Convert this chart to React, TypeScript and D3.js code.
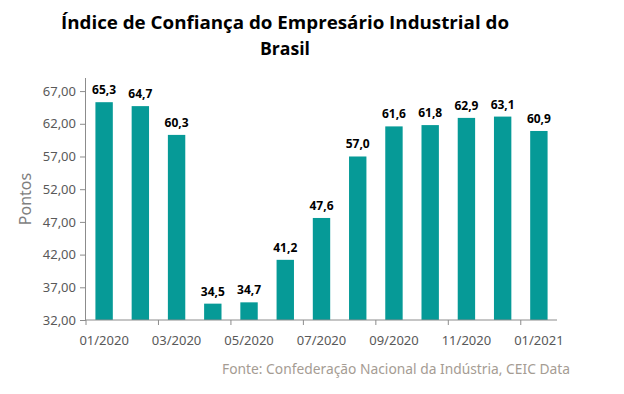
import React, { useEffect, useRef } from "react";
import * as d3 from "d3";

const months = [
  "01/2020", "02/2020", "03/2020", "04/2020", "05/2020", "06/2020", "07/2020",
  "08/2020", "09/2020", "10/2020", "11/2020", "12/2020", "01/2021",
];
const values = [65.3, 64.7, 60.3, 34.5, 34.7, 41.2, 47.6, 57.0, 61.6, 61.8, 62.9, 63.1, 60.9];
const yTicks = [32, 37, 42, 47, 52, 57, 62, 67];
const titleLines = ["Índice de Confiança do Empresário Industrial do", "Brasil"];
const sourceText = "Fonte: Confederação Nacional da Indústria, CEIC Data";

const W = 624;
const H = 394;
const margin = { left: 86, right: 67, top: 78, bottom: 74 };
const fmt2 = (v: number) => v.toFixed(2).replace(".", ",");
const fmt1 = (v: number) => v.toFixed(1).replace(".", ",");

const App = () => {
  const svgRef = useRef<SVGSVGElement>(null);

  useEffect(() => {
    const svg = d3.select(svgRef.current);
    svg.selectAll("*").remove();

    const x = d3
      .scaleBand<string>()
      .domain(months)
      .range([margin.left, W - margin.right])
      .paddingInner(0.52)
      .paddingOuter(0.26);
    const y = d3.scaleLinear().domain([32, 69]).range([H - margin.bottom, margin.top]);
    const axisColor = "#8c8c8c";
    const textColor = "#595959";

    // title
    svg
      .append("g")
      .selectAll("text")
      .data(titleLines)
      .join("text")
      .attr("x", 285)
      .attr("y", (d, i) => 29 + i * 26)
      .attr("text-anchor", "middle")
      .attr("font-family", "'Open Sans', sans-serif")
      .attr("font-weight", "bold")
      .attr("font-size", 17.5)
      .attr("fill", "#000")
      .attr("textLength", (d, i) => (i === 0 ? 448 : 50))
      .attr("lengthAdjust", "spacingAndGlyphs")
      .text((d) => d);

    // bars
    svg
      .append("g")
      .selectAll("rect")
      .data(values)
      .join("rect")
      .attr("x", (d, i) => x(months[i])!)
      .attr("width", x.bandwidth())
      .attr("y", (d) => y(d))
      .attr("height", (d) => y(32) - y(d))
      .attr("fill", "#069a97");

    // value labels
    svg
      .append("g")
      .selectAll("text")
      .data(values)
      .join("text")
      .attr("x", (d, i) => x(months[i])! + x.bandwidth() / 2)
      .attr("y", (d) => y(d) - 8)
      .attr("text-anchor", "middle")
      .attr("font-family", "'Open Sans', sans-serif")
      .attr("font-weight", "bold")
      .attr("font-size", 12)
      .attr("fill", "#000")
      .text((d) => fmt1(d));

    // y axis
    const yAxis = d3.axisLeft(y).tickValues(yTicks).tickSize(6).tickFormat((d) => fmt2(+d));
    const gy = svg
      .append("g")
      .attr("transform", `translate(${margin.left},0)`)
      .call(yAxis);
    gy.select(".domain").attr("stroke", axisColor).attr("d", `M-0.5,${y(32)}V${y(69)}`);
    gy.selectAll(".tick line").attr("stroke", axisColor);
    gy.selectAll(".tick text")
      .attr("x", -10)
      .attr("fill", textColor)
      .attr("font-family", "'Noto Sans', sans-serif")
      .attr("font-size", 13);

    // x axis: ticks at category boundaries every two months
    const step = x.step();
    const x0 = margin.left;
    const gx = svg.append("g").attr("transform", `translate(0,${y(32)})`);
    gx.append("line")
      .attr("x1", x0)
      .attr("x2", W - margin.right)
      .attr("stroke", axisColor);
    const tickIdx = d3.range(0, months.length + 1, 2);
    gx.selectAll(".xt")
      .data(tickIdx)
      .join("line")
      .attr("class", "xt")
      .attr("x1", (i) => x0 + i * step)
      .attr("x2", (i) => x0 + i * step)
      .attr("y1", 0)
      .attr("y2", 5)
      .attr("stroke", axisColor);
    gx.selectAll(".xl")
      .data(months.filter((m, i) => i % 2 === 0))
      .join("text")
      .attr("class", "xl")
      .attr("x", (m) => x(m)! + x.bandwidth() / 2)
      .attr("y", 25)
      .attr("text-anchor", "middle")
      .attr("fill", textColor)
      .attr("font-family", "'Noto Sans', sans-serif")
      .attr("font-size", 13)
      .text((m) => m);

    // y axis title
    svg
      .append("text")
      .attr("transform", `translate(31,${(y(32) + y(69)) / 2}) rotate(-90)`)
      .attr("text-anchor", "middle")
      .attr("fill", "#7f7f7f")
      .attr("font-family", "'Noto Sans', sans-serif")
      .attr("font-size", 16)
      .text("Pontos");

    // source
    svg
      .append("text")
      .attr("x", 570)
      .attr("y", 374)
      .attr("text-anchor", "end")
      .attr("fill", "#a59c93")
      .attr("font-family", "'Noto Sans', sans-serif")
      .attr("font-size", 13.5)
      .attr("textLength", 348)
      .attr("lengthAdjust", "spacingAndGlyphs")
      .text(sourceText);
  }, []);

  return (
    <svg
      ref={svgRef}
      width={W}
      height={H}
      style={{ position: "absolute", left: 0, top: 0, background: "#fff" }}
    />
  );
};

export default App;
